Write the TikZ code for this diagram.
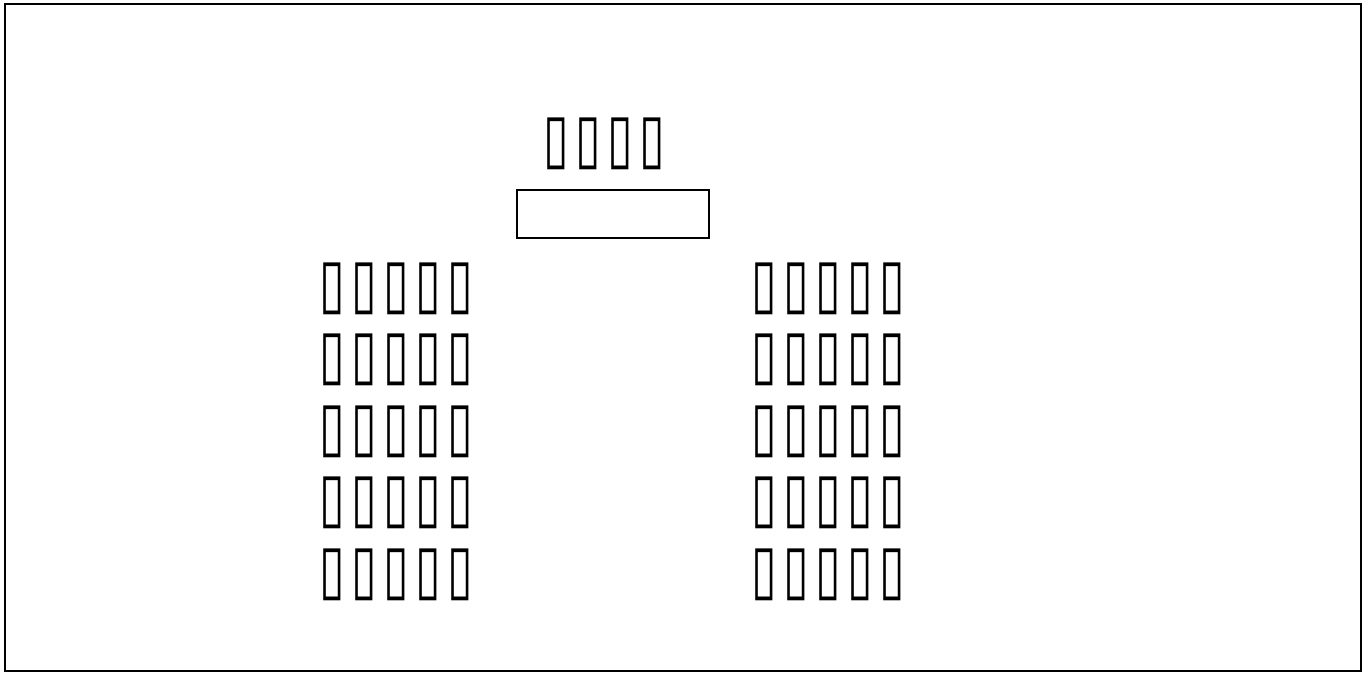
\documentclass[tikz,border=0pt]{standalone}
\usepackage{fontspec}
\newfontfamily\dejavu{DejaVu Sans}
\newcommand\tofu{\makebox[32pt]{\scalebox{0.465}[0.68]{\dejavu\fontsize{100pt}{100pt}\selectfont ▯}}}
\begin{document}
\begin{tikzpicture}[x=1pt,y=-1pt,
  frame/.style={draw=black,line width=2pt},
  lbl/.style={inner sep=0pt,outer sep=0pt,anchor=center}]
\useasboundingbox (0,0) rectangle (1365,673);
\draw[frame] (5,4) rectangle (1361,671);
\node[lbl] (title) at (604,143.5) {\tofu\tofu\tofu\tofu};
\node[draw,line width=2pt,minimum width=192pt,minimum height=48pt,inner sep=0pt] (field) at (613,214) {};
\foreach \i/\y in {1/288.5,2/360,3/431.5,4/503,5/574.5}{
  \node[lbl] (l\i) at (396.5,\y) {\tofu\tofu\tofu\tofu\tofu};
  \node[lbl] (r\i) at (828,\y) {\tofu\tofu\tofu\tofu\tofu};
}
\end{tikzpicture}
\end{document}
